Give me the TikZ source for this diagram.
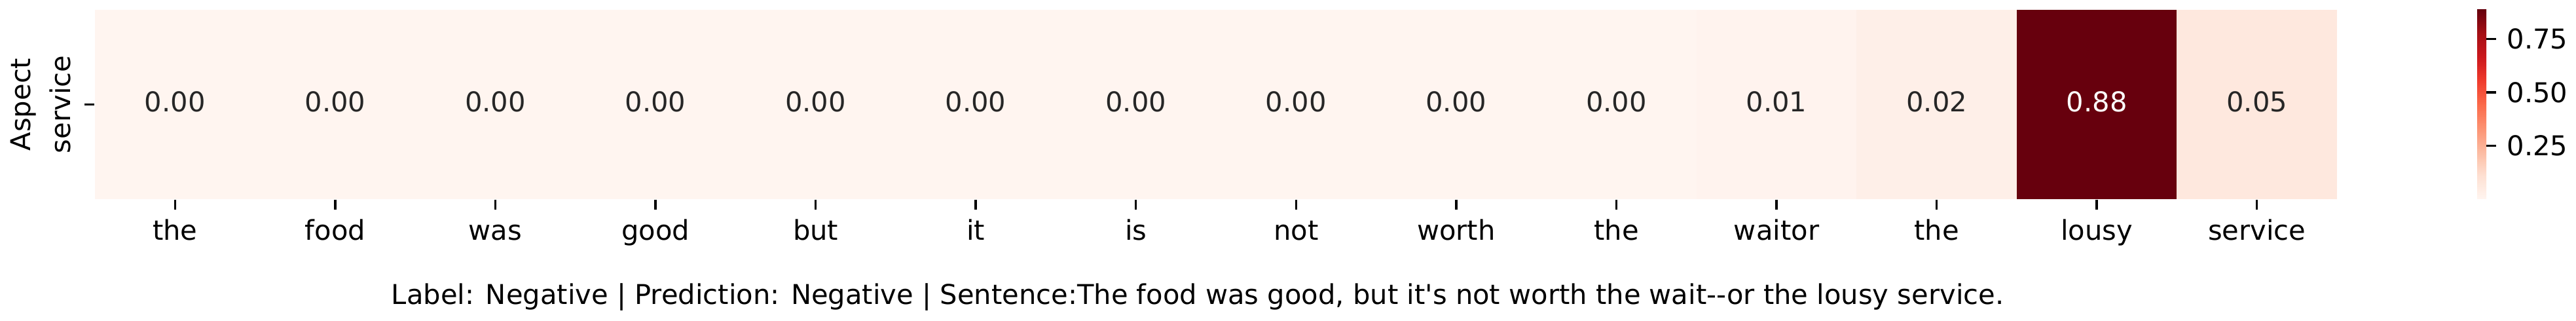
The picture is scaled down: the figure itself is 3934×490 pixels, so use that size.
\documentclass[tikz,border=0pt]{standalone}
\usepackage{fontspec}
\setmainfont{DejaVu Sans}[Ligatures=TeXOff]
\definecolor{rd0}{HTML}{FFF5F0}
\definecolor{rd1}{HTML}{FEE0D2}
\definecolor{rd2}{HTML}{FCBBA1}
\definecolor{rd3}{HTML}{FC9272}
\definecolor{rd4}{HTML}{FB6A4A}
\definecolor{rd5}{HTML}{EF3B2C}
\definecolor{rd6}{HTML}{CB181D}
\definecolor{rd7}{HTML}{A50F15}
\definecolor{rd8}{HTML}{67000D}
\definecolor{c01}{HTML}{FFF3EE}
\definecolor{c02}{HTML}{FEEFE8}
\definecolor{c05}{HTML}{FEE8DE}
\definecolor{anno}{HTML}{262626}
\pgfdeclareverticalshading{redsbar}{100bp}{color(0bp)=(rd0); color(25bp)=(rd0);
  color(31.25bp)=(rd1); color(37.5bp)=(rd2); color(43.75bp)=(rd3); color(50bp)=(rd4);
  color(56.25bp)=(rd5); color(62.5bp)=(rd6); color(68.75bp)=(rd7); color(75bp)=(rd8);
  color(100bp)=(rd8)}
\begin{document}
\begin{tikzpicture}[x=0.24pt,y=-0.24pt]
\tikzstyle{cl} = [rectangle,inner sep=0pt,minimum width=58.8pt,minimum height=69.36pt,text=anno,text height=0.76em,text depth=0.24em] %heatmap cell
\tikzstyle{xl} = [anchor=base,inner sep=0pt] %tick label
\tikzstyle{cb} = [anchor=west,inner sep=0pt] %colorbar label
\tikzstyle{tk} = [-,line width=0.8pt] %tick
\useasboundingbox (0,0) rectangle (3934,490);
\node[cl,fill=rd0](c1)at(267.3,159.5){0.00};
\node[cl,fill=rd0](c2)at(511.9,159.5){0.00};
\node[cl,fill=rd0](c3)at(756.4,159.5){0.00};
\node[cl,fill=rd0](c4)at(1001.0,159.5){0.00};
\node[cl,fill=rd0](c5)at(1245.6,159.5){0.00};
\node[cl,fill=rd0](c6)at(1490.1,159.5){0.00};
\node[cl,fill=rd0](c7)at(1734.7,159.5){0.00};
\node[cl,fill=rd0](c8)at(1979.3,159.5){0.00};
\node[cl,fill=rd0](c9)at(2223.8,159.5){0.00};
\node[cl,fill=rd0](c10)at(2468.4,159.5){0.00};
\node[cl,fill=c01](c11)at(2713.0,159.5){0.01};
\node[cl,fill=c02](c12)at(2957.6,159.5){0.02};
\node[cl,fill=rd8,text=white](c13)at(3202.1,159.5){0.88};
\node[cl,fill=c05](c14)at(3446.7,159.5){0.05};
% ticks
\draw[tk](c1.south)--++(0,15);
\draw[tk](c2.south)--++(0,15);
\draw[tk](c3.south)--++(0,15);
\draw[tk](c4.south)--++(0,15);
\draw[tk](c5.south)--++(0,15);
\draw[tk](c6.south)--++(0,15);
\draw[tk](c7.south)--++(0,15);
\draw[tk](c8.south)--++(0,15);
\draw[tk](c9.south)--++(0,15);
\draw[tk](c10.south)--++(0,15);
\draw[tk](c11.south)--++(0,15);
\draw[tk](c12.south)--++(0,15);
\draw[tk](c13.south)--++(0,15);
\draw[tk](c14.south)--++(0,15);
\draw[tk](c1.west)--++(-15,0);
% words
\node[xl](x1)at(267.3,367){the};
\node[xl](x2)at(511.9,367){food};
\node[xl](x3)at(756.4,367){was};
\node[xl](x4)at(1001.0,367){good};
\node[xl](x5)at(1245.6,367){but};
\node[xl](x6)at(1490.1,367){it};
\node[xl](x7)at(1734.7,367){is};
\node[xl](x8)at(1979.3,367){not};
\node[xl](x9)at(2223.8,367){worth};
\node[xl](x10)at(2468.4,367){the};
\node[xl](x11)at(2713.0,367){waitor};
\node[xl](x12)at(2957.6,367){the};
\node[xl](x13)at(3202.1,367){lousy};
\node[xl](x14)at(3446.7,367){service};
\node[xl,rotate=90](yl)at(107,159.5){service};
\node[xl,rotate=90](ya)at(46,159.5){Aspect};
\node[xl](cap)at(1829,465){Label: Negative | Prediction: Negative | Sentence:The food was good, but it's not worth the wait--or the lousy service.};
% colorbar
\shade[shading=redsbar](3783,15) rectangle (3797,304);
\coordinate(t75)at(3797,59.2);
\coordinate(t50)at(3797,141);
\coordinate(t25)at(3797,222.8);
\draw[tk](t75)--++(15,0) node[cb,xshift=3.6pt]{0.75};
\draw[tk](t50)--++(15,0) node[cb,xshift=3.6pt]{0.50};
\draw[tk](t25)--++(15,0) node[cb,xshift=3.6pt]{0.25};
\end{tikzpicture}
\end{document}
